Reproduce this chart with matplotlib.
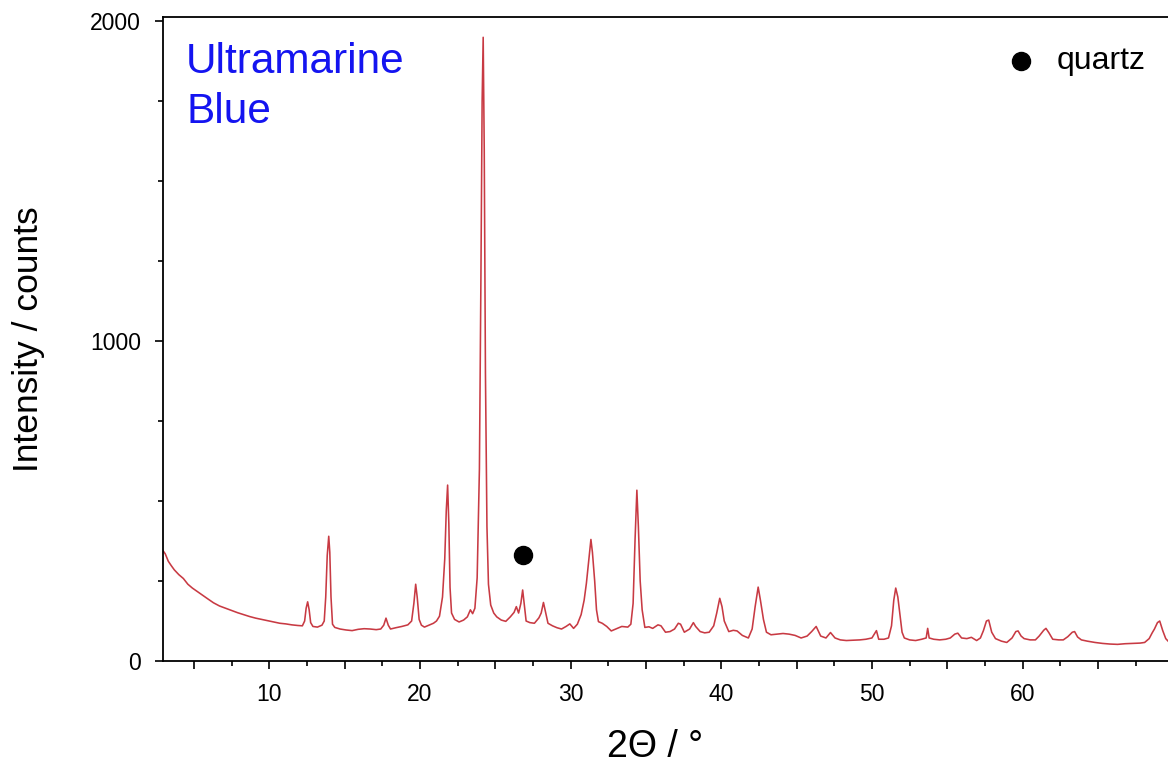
import matplotlib
matplotlib.use('Agg')
import matplotlib.pyplot as plt
from matplotlib.ticker import MultipleLocator, FuncFormatter

plt.rcParams['font.family'] = ['Liberation Sans', 'DejaVu Sans']

# diffractogram, read point by point: 2theta in degrees, intensity in counts
two_theta = [
    2.95, 3.1, 3.3, 3.5, 3.7, 4.0, 4.3, 4.6, 4.9, 5.2, 5.5, 5.9, 6.3, 6.7,
    7.1, 7.5, 7.9, 8.3, 8.7, 9.1, 9.5, 9.9, 10.3, 10.7, 11.1, 11.5, 11.9,
    12.2, 12.35, 12.45, 12.55, 12.65, 12.75, 12.9, 13.2, 13.5, 13.65, 13.75,
    13.85, 13.95, 14.02, 14.1, 14.2, 14.35, 14.7, 15.1, 15.5, 15.9, 16.3,
    16.7, 17.1, 17.4, 17.6, 17.75, 17.9, 18.05, 18.4, 18.8, 19.2, 19.45,
    19.6, 19.72, 19.82, 19.95, 20.1, 20.3, 20.6, 20.9, 21.1, 21.3, 21.5,
    21.65, 21.75, 21.84, 21.92, 22.0, 22.1, 22.3, 22.6, 22.9, 23.15, 23.35,
    23.5, 23.65, 23.8, 23.95, 24.05, 24.13, 24.2, 24.27, 24.35, 24.45,
    24.55, 24.7, 24.9, 25.1, 25.4, 25.7, 26.0, 26.25, 26.4, 26.55, 26.7,
    26.82, 26.92, 27.05, 27.3, 27.6, 27.9, 28.05, 28.2, 28.35, 28.5, 28.8,
    29.1, 29.4, 29.7, 29.95, 30.2, 30.45, 30.7, 30.9, 31.05, 31.2, 31.35,
    31.45, 31.6, 31.72, 31.85, 32.1, 32.4, 32.7, 33.0, 33.4, 33.8, 34.0,
    34.15, 34.28, 34.4, 34.5, 34.62, 34.75, 34.93, 35.2, 35.45, 35.8, 36.0,
    36.3, 36.6, 36.9, 37.15, 37.3, 37.55, 37.9, 38.15, 38.3, 38.6, 38.9,
    39.2, 39.5, 39.7, 39.9, 40.05, 40.2, 40.5, 40.8, 41.05, 41.4, 41.8,
    42.05, 42.25, 42.45, 42.6, 42.8, 43.0, 43.3, 43.7, 44.1, 44.5, 44.9,
    45.3, 45.7, 46.0, 46.3, 46.6, 46.95, 47.25, 47.55, 47.9, 48.3, 48.8,
    49.2, 49.6, 50.0, 50.3, 50.45, 50.8, 51.1, 51.3, 51.45, 51.58, 51.72,
    51.85, 52.0, 52.15, 52.5, 52.9, 53.3, 53.6, 53.7, 53.8, 54.1, 54.5,
    54.9, 55.2, 55.5, 55.7, 55.95, 56.3, 56.6, 56.95, 57.2, 57.4, 57.6,
    57.75, 57.95, 58.2, 58.6, 58.95, 59.3, 59.55, 59.7, 59.9, 60.1, 60.5,
    60.85, 61.1, 61.4, 61.55, 61.75, 62.0, 62.4, 62.7, 63.0, 63.3, 63.45,
    63.65, 63.9, 64.3, 64.8, 65.3, 65.8, 66.3, 66.8, 67.3, 67.8, 68.1,
    68.4, 68.6, 68.75, 68.95, 69.1, 69.3, 69.5, 69.7,
]
counts = [
    345, 335, 312, 298, 285, 270, 258, 240, 228, 218, 208, 195, 182, 172,
    165, 158, 151, 145, 139, 134, 130, 126, 122, 118, 116, 113, 111,
    110, 125, 165, 185, 160, 120, 108, 106, 112, 125, 200,
    330, 390, 340, 200, 115, 105, 100, 97, 95, 99, 101,
    100, 98, 100, 112, 134, 112, 100, 104, 108, 113, 125,
    180, 240, 200, 130, 112, 106, 112, 118, 125, 140, 200,
    320, 470, 550, 430, 230, 150, 130, 122, 128, 138, 160,
    148, 165, 260, 600, 1200, 1750, 1950, 1600, 900, 420,
    240, 175, 150, 138, 128, 124, 138, 152, 170, 150, 180,
    222, 180, 125, 120, 118, 135, 150, 183, 150, 118, 110,
    104, 100, 108, 116, 102, 115, 145, 190, 243, 310, 380,
    340, 250, 160, 123, 118, 108, 94, 100, 108, 106, 115,
    180, 380, 534, 420, 250, 160, 105, 107, 102, 113, 110,
    90, 92, 100, 118, 115, 90, 100, 120, 108, 92, 88,
    90, 110, 150, 196, 170, 125, 92, 96, 94, 80, 72,
    100, 170, 231, 190, 130, 90, 82, 84, 86, 84, 80,
    72, 78, 92, 108, 78, 72, 89, 72, 66, 64, 65,
    66, 68, 72, 95, 68, 68, 72, 110, 190, 228, 200,
    150, 90, 72, 66, 64, 68, 72, 102, 72, 68, 66,
    68, 72, 84, 87, 72, 70, 74, 64, 72, 95, 125,
    128, 90, 70, 62, 58, 72, 92, 94, 78, 70, 66,
    66, 78, 96, 102, 88, 68, 66, 66, 76, 90, 92,
    75, 66, 62, 58, 55, 53, 52, 54, 55, 56, 58,
    70, 88, 100, 120, 125, 95, 70, 60,
]

# quartz reflection marker and its key
quartz_pos = (26.85, 330)
key_pos = (59.9, 1875)
key_label = 'quartz'
sample_name = 'Ultramarine\nBlue'

fig = plt.figure(figsize=(11.68, 7.63), dpi=100)
ax = fig.add_axes([163 / 1168, 1 - 661 / 763, 1 - 163 / 1168, (661 - 16.5) / 763])

ax.plot(two_theta, counts, color='#c83a43', lw=1.15)
ax.plot(*quartz_pos, 'o', color='black', ms=13)
ax.plot(*key_pos, 'o', color='black', ms=13, clip_on=False)
ax.text(key_pos[0] + 2.35, key_pos[1], key_label, fontsize=23, va='center',
        ha='left')
ax.text(0.0229, 0.96, sample_name, transform=ax.transAxes, fontsize=30.5,
        color='#1414f0', va='top', ha='left', linespacing=1.3)

ax.set_xlim(2.95, 69.65)
ax.set_ylim(0, 2015)

ax.xaxis.set_major_locator(MultipleLocator(5))
ax.xaxis.set_minor_locator(MultipleLocator(2.5))
ax.xaxis.set_major_formatter(
    FuncFormatter(lambda v, p: '%d' % v if round(v) % 10 == 0 else ''))
ax.yaxis.set_major_locator(MultipleLocator(1000))
ax.yaxis.set_minor_locator(MultipleLocator(250))

ax.tick_params(which='major', direction='out', length=6, width=1.2,
               labelsize=16.5, pad=10)
ax.tick_params(which='minor', direction='out', length=3.5, width=1.2)

for side in ('left', 'bottom', 'top'):
    ax.spines[side].set_linewidth(1.3)
ax.spines['right'].set_visible(False)

ax.set_xlabel('2\u0398 / \u00b0', fontsize=27, va='center')
ax.set_ylabel('Intensity / counts', fontsize=25.5, labelpad=32)
ax.xaxis.set_label_coords(0.49, -0.133)

fig.savefig('out.png', dpi=100)
